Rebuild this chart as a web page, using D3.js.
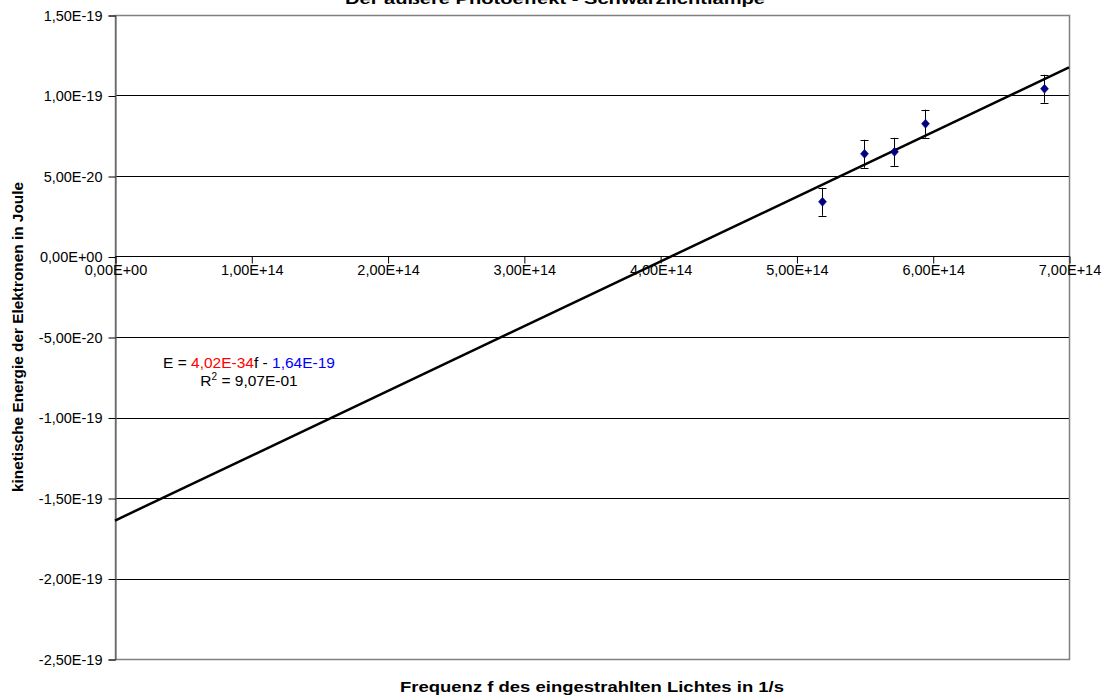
<!DOCTYPE html>
<html>
<head>
<meta charset="utf-8">
<script src="https://cdn.jsdelivr.net/npm/d3@7"></script>
<style>
  body { margin: 0; background: #fff; }
  text { font-family: Arial, "Liberation Sans", sans-serif; }
</style>
</head>
<body>
<script>

var width = 1112;
var height = 699;

// measured points (frequency in 1/s, energy in J)
var freq = [5.19e14, 5.495e14, 5.715e14, 5.94e14, 6.82e14];
var energy = [3.4e-20, 6.38e-20, 6.5e-20, 8.25e-20, 1.042e-19];
var errs = [0.87e-20, 0.87e-20, 0.87e-20, 0.87e-20, 0.87e-20];

// fit E = slope * f + intercept
var slope = 4.02e-34;
var intercept = -1.64e-19;

var xTicks = [0, 1e14, 2e14, 3e14, 4e14, 5e14, 6e14, 7e14];
var xTickLabels = ['0,00E+00', '1,00E+14', '2,00E+14', '3,00E+14', '4,00E+14', '5,00E+14', '6,00E+14', '7,00E+14'];
var yTicks = [1.5e-19, 1e-19, 5e-20, 0, -5e-20, -1e-19, -1.5e-19, -2e-19, -2.5e-19];
var yTickLabels = ['1,50E-19', '1,00E-19', '5,00E-20', '0,00E+00', '-5,00E-20', '-1,00E-19', '-1,50E-19', '-2,00E-19', '-2,50E-19'];

var svg = d3.select('body').append('svg')
  .attr('width', width)
  .attr('height', height);

var x = d3.scaleLinear().domain([0, 7e14]).range([115, 1069]);
var y = d3.scaleLinear().domain([-2.5e-19, 1.5e-19]).range([659, 15]);

// title (cut off at top in the original)
svg.append('text')
  .attr('x', 555)
  .attr('y', 4)
  .attr('text-anchor', 'middle')
  .attr('textLength', 420)
  .attr('lengthAdjust', 'spacingAndGlyphs')
  .style('font-size', '15px')
  .style('font-weight', 'bold')
  .text('Der äußere Photoeffekt - Schwarzlichtlampe');

// horizontal gridlines
svg.append('g').selectAll('line')
  .data(yTicks)
  .enter()
  .append('line')
  .attr('x1', x(0)).attr('x2', x(7e14))
  .attr('y1', function(d){ return Math.round(y(d)) + 0.5; })
  .attr('y2', function(d){ return Math.round(y(d)) + 0.5; })
  .style('stroke', '#000')
  .style('stroke-width', 1);

// plot border
svg.append('rect')
  .attr('x', x(0) + 0.5).attr('y', Math.round(y(1.5e-19)) + 0.5)
  .attr('width', Math.round(x(7e14) - x(0)))
  .attr('height', Math.round(y(-2.5e-19) - y(1.5e-19)))
  .style('fill', 'none')
  .style('stroke', '#808080')
  .style('stroke-width', 1.5);

// y axis
var yAxis = d3.axisLeft(y)
  .tickValues(yTicks)
  .tickSize(7)
  .tickFormat(function(d, i){ return yTickLabels[i]; });
var gy = svg.append('g')
  .attr('transform', 'translate(' + (x(0) + 0.5) + ',0.5)')
  .call(yAxis);
gy.select('.domain').style('stroke', '#555');
gy.selectAll('text')
  .attr('x', -13)
  .style('font-size', '14.5px')
  .style('fill', '#000')
  .style('font-family', 'Arial, "Liberation Sans", sans-serif');

// x axis through zero
var xAxis = d3.axisBottom(x)
  .tickValues(xTicks)
  .tickSize(7)
  .tickFormat(function(d, i){ return xTickLabels[i]; });
var gx = svg.append('g')
  .attr('transform', 'translate(0.5,' + (Math.round(y(0)) + 0.5) + ')')
  .call(xAxis);
gx.select('.domain').style('stroke', '#000').attr('d', 'M' + x(0) + ',0H' + x(7e14));
gx.selectAll('text')
  .attr('y', 8)
  .style('font-size', '14.5px')
  .style('fill', '#000')
  .style('font-family', 'Arial, "Liberation Sans", sans-serif');

// fit line
svg.append('line')
  .attr('x1', x(0)).attr('y1', y(intercept))
  .attr('x2', x(7e14)).attr('y2', y(slope * 7e14 + intercept))
  .style('stroke', '#000')
  .style('stroke-width', 2.5);

// error bars
var pts = freq.map(function(f, i){ return {f: f, e: energy[i], err: errs[i]}; });
var eb = svg.append('g').style('stroke', '#000').style('stroke-width', 1);
pts.forEach(function(d){
  var cx = Math.round(x(d.f)) + 0.5;
  eb.append('line').attr('x1', cx).attr('x2', cx)
    .attr('y1', y(d.e + d.err)).attr('y2', y(d.e - d.err));
  eb.append('line').attr('x1', cx - 4).attr('x2', cx + 4)
    .attr('y1', Math.round(y(d.e + d.err)) + 0.5).attr('y2', Math.round(y(d.e + d.err)) + 0.5);
  eb.append('line').attr('x1', cx - 4).attr('x2', cx + 4)
    .attr('y1', Math.round(y(d.e - d.err)) + 0.5).attr('y2', Math.round(y(d.e - d.err)) + 0.5);
});

// diamonds
svg.append('g').selectAll('path')
  .data(pts)
  .enter()
  .append('path')
  .attr('d', 'M0,-4.5L4,0L0,4.5L-4,0Z')
  .attr('transform', function(d){ return 'translate(' + (Math.round(x(d.f)) + 0.5) + ',' + y(d.e) + ')'; })
  .style('fill', '#000080')
  .style('stroke', '#000080')
  .style('stroke-width', 0.5);

// equation
var eq = svg.append('text')
  .attr('x', 249).attr('y', 368)
  .attr('text-anchor', 'middle')
  .style('font-size', '15.5px');
eq.append('tspan').text('E = ');
eq.append('tspan').style('fill', '#ff0000').text('4,02E-34');
eq.append('tspan').text('f - ');
eq.append('tspan').style('fill', '#0000ff').text('1,64E-19');

var r2 = svg.append('text')
  .attr('x', 249).attr('y', 386)
  .attr('text-anchor', 'middle')
  .style('font-size', '15.5px');
r2.append('tspan').text('R');
r2.append('tspan').attr('dy', -6).style('font-size', '10px').text('2');
r2.append('tspan').attr('dy', 6).text(' = 9,07E-01');

// axis titles
svg.append('text')
  .attr('x', 592).attr('y', 692)
  .attr('text-anchor', 'middle')
  .attr('textLength', 384)
  .attr('lengthAdjust', 'spacingAndGlyphs')
  .style('font-size', '15px')
  .style('font-weight', 'bold')
  .text('Frequenz f des eingestrahlten Lichtes in 1/s');

svg.append('text')
  .attr('transform', 'translate(23,337) rotate(-90)')
  .attr('text-anchor', 'middle')
  .attr('textLength', 310)
  .attr('lengthAdjust', 'spacingAndGlyphs')
  .style('font-size', '15px')
  .style('font-weight', 'bold')
  .text('kinetische Energie der Elektronen in Joule');

</script>
</body>
</html>
